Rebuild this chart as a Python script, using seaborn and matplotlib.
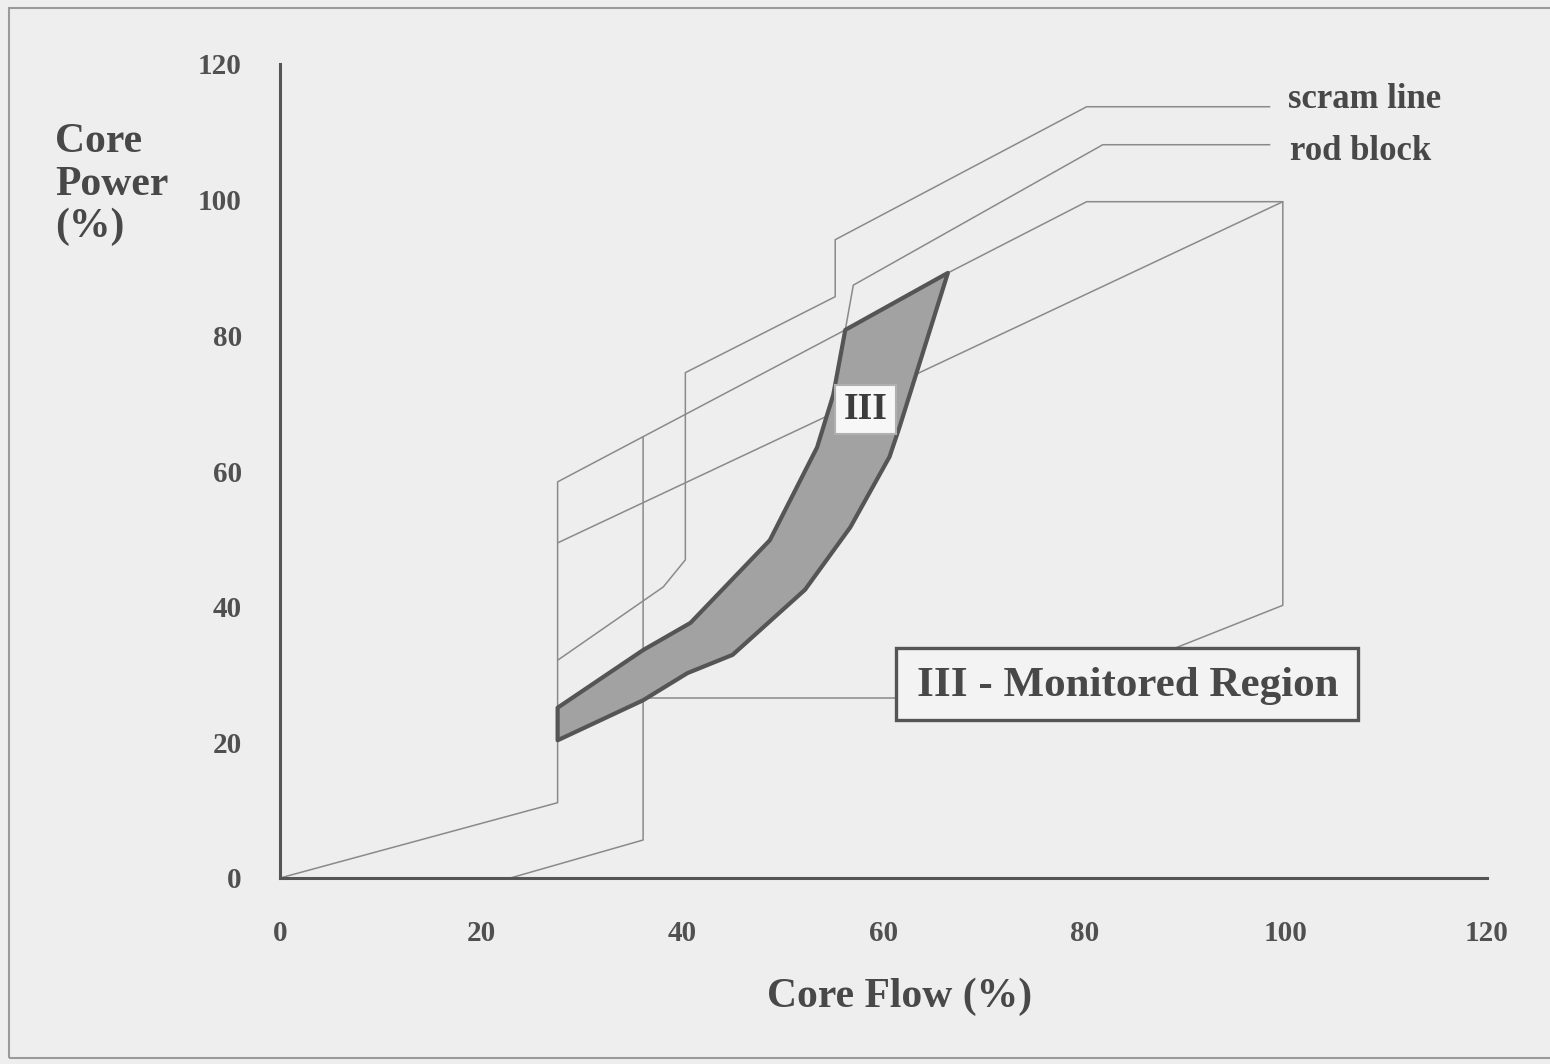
import matplotlib
matplotlib.use("Agg")
import matplotlib.pyplot as plt
import seaborn as sns
import numpy as np
import pandas as pd
from matplotlib.patches import Rectangle, Polygon

# ---------------- data (Core Flow %, Core Power %) ----------------
x_ticks = [0, 20, 40, 60, 80, 100, 120]
y_ticks = [0, 20, 40, 60, 80, 100, 120]

# rod block / natural circulation boundary
rod_block_x = [0, 27.6, 27.6, 56.2, 57.0, 81.8, 98.4]
rod_block_y = [0, 11.1, 58.4, 80.8, 87.4, 108.1, 108.1]

# scram line (flow-biased)
scram_x = [27.6, 38.1, 40.3, 40.3, 55.2, 55.2, 80.2, 98.4]
scram_y = [32.1, 42.9, 46.9, 74.5, 85.7, 94.1, 113.7, 113.7]

# 100% rod line
rod100_x = [27.6, 99.7]
rod100_y = [49.4, 99.7]

# upper rated line
rated_x = [66.4, 80.2, 99.7, 99.7, 89.0]
rated_y = [89.2, 99.7, 99.7, 40.2, 33.9]

# minimum pump speed line
minpump_x = [22.9, 36.1, 36.1]
minpump_y = [0, 5.6, 65.0]

# leader to label box
leader_x = [36.1, 61.2]
leader_y = [26.5, 26.5]

# monitored region III (upper edge then lower edge)
region_upper_x = [27.6, 36.1, 40.8, 48.7, 53.4, 55.0, 56.2, 66.4]
region_upper_y = [25.1, 33.6, 37.6, 49.8, 63.5, 71.2, 80.8, 89.2]
region_lower_x = [66.4, 61.6, 60.6, 56.7, 52.2, 45.0, 40.5, 36.1, 27.6]
region_lower_y = [89.2, 66.5, 62.1, 51.7, 42.5, 32.9, 30.2, 26.2, 20.3]

# ---------------- figure ----------------
W, H = 1550, 1064
sns.set_theme(style="white")
plt.rcParams['font.family'] = ['Liberation Serif', 'DejaVu Serif']
plt.rcParams['font.weight'] = 'bold'

bg = '#eeeeee'
txt = '#484848'
linec = '#8a8a8a'

fig = plt.figure(figsize=(W / 100, H / 100), dpi=100, facecolor=bg)
ax = fig.add_axes([280 / W, 1 - 878 / H, (1487 - 280) / W, (878 - 64) / H])
ax.set_facecolor('none')
ax.set_xlim(0, 120)
ax.set_ylim(0, 120)

lw = 1.1
for xs, ys in [(rod_block_x, rod_block_y), (scram_x, scram_y), (rod100_x, rod100_y),
               (rated_x, rated_y), (minpump_x, minpump_y), (leader_x, leader_y)]:
    df = pd.DataFrame({'x': xs, 'y': ys})
    sns.lineplot(data=df, x='x', y='y', sort=False, estimator=None, ax=ax,
                 color=linec, linewidth=lw, clip_on=False)

# shaded region III
poly_x = region_upper_x + region_lower_x
poly_y = region_upper_y + region_lower_y
ax.add_patch(Polygon(np.column_stack([poly_x, poly_y]), closed=True,
                     facecolor='#a2a2a2', edgecolor='#555555', linewidth=3.0,
                     joinstyle='round', zorder=3))

# small III label box
ax.add_patch(Rectangle((55.2, 65.4), 6.0, 7.3, facecolor='#f7f7f7',
                       edgecolor='#b0b0b0', linewidth=1.5, zorder=4))
ax.text(58.2, 69.0, 'III', ha='center', va='center', fontsize=27,
        color='#3c3c3c', fontweight='bold', zorder=5)

# Monitored region label box
ax.add_patch(Rectangle((61.2, 23.3), 46.0, 10.6, facecolor='#f3f3f3',
                       edgecolor='#555555', linewidth=2.4, zorder=4, clip_on=False))
ax.text(84.3, 28.3, 'III - Monitored Region', ha='center', va='center',
        fontsize=31, color=txt, fontweight='bold', zorder=5)

# axes styling
for s in ['top', 'right']:
    ax.spines[s].set_visible(False)
for s in ['left', 'bottom']:
    ax.spines[s].set_color('#555555')
    ax.spines[s].set_linewidth(2.2)
ax.set_xticks(x_ticks)
ax.set_yticks(y_ticks)
ax.set_xticklabels([str(v) for v in x_ticks])
ax.set_yticklabels([str(v) for v in y_ticks])
ax.tick_params(axis='both', direction='out', length=9.5, width=2.2, color='#555555',
               labelsize=21, labelcolor='#505050')
ax.tick_params(axis='y', pad=18)
ax.tick_params(axis='x', pad=21)
for lab in ax.get_xticklabels() + ax.get_yticklabels():
    lab.set_fontweight('bold')
ax.set_xlabel('')
ax.set_ylabel('')

# texts in figure pixel coordinates
def ft(x, y, s, **kw):
    fig.text(x / W, 1 - y / H, s, **kw)

ft(55, 152, 'Core', fontsize=30, color=txt, fontweight='bold', va='baseline', ha='left')
ft(55, 195, 'Power', fontsize=30, color=txt, fontweight='bold', va='baseline', ha='left')
ft(55, 237, '(%)', fontsize=30, color=txt, fontweight='bold', va='baseline', ha='left')
ft(900, 1007, 'Core Flow (%)', fontsize=30, color=txt, fontweight='bold', va='baseline', ha='center')
ft(1288, 108, 'scram line', fontsize=25, color=txt, fontweight='bold', va='baseline', ha='left')
ft(1290, 160, 'rod block', fontsize=25, color=txt, fontweight='bold', va='baseline', ha='left')

# scanned page frame
frame = Rectangle((9 / W, 1 - 1058 / H), (1600 - 9) / W, (1058 - 8) / H,
                  transform=fig.transFigure, fill=False, edgecolor='#9a9a9a',
                  linewidth=1.5)
fig.patches.append(frame)

fig.savefig('out.png', dpi=100, facecolor=bg)
